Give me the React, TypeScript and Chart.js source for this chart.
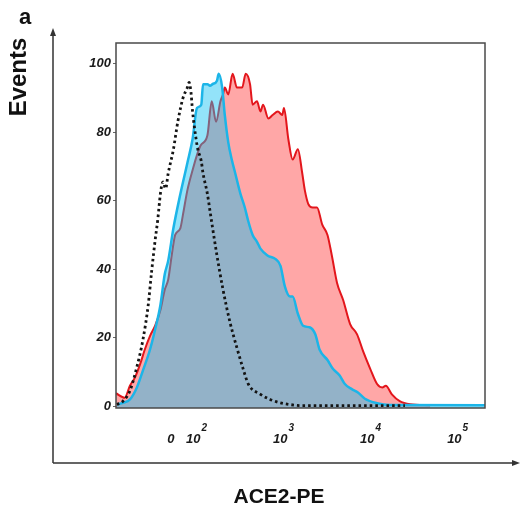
import React, { useEffect, useRef } from "react";
import { Chart, registerables } from "chart.js";

Chart.register(...registerables);

const FONT = '"Liberation Sans", Arial, Helvetica, sans-serif';

// x in log10 units (biexponential display), y in % of max events
const xMin = 1.08;
const xMax = 5.32;
const yMin = -0.5;
const yMax = 106;

const yTicks = [0, 20, 40, 60, 80, 100];
const xTickValues = [1.71, 2, 3, 4, 5];
const xTickBase = ["0", "10", "10", "10", "10"];
const xTickExp = ["", "2", "3", "4", "5"];

// ACE2 stained (red)
const redX = [1.08, 1.18, 1.24, 1.3, 1.36, 1.41, 1.47, 1.53, 1.59, 1.64, 1.68, 1.72, 1.76, 1.82, 1.85, 1.9, 1.95, 2.05, 2.13, 2.18, 2.23, 2.28, 2.31, 2.33, 2.37, 2.42, 2.47, 2.53, 2.57, 2.62, 2.65, 2.7, 2.74, 2.77, 2.83, 2.88, 2.94, 2.99, 3.01, 3.06, 3.11, 3.17, 3.22, 3.25, 3.29, 3.34, 3.39, 3.45, 3.51, 3.56, 3.62, 3.69, 3.77, 3.85, 3.92, 4.0, 4.08, 4.14, 4.18, 4.25, 4.34, 4.46, 4.69];
const redY = [3.8, 2.5, 6, 8.5, 12.5, 16.5, 20.5, 23.5, 28, 34, 37, 44, 50, 52, 56, 63, 68, 76, 79, 89, 83, 89, 91, 93, 91, 97, 93, 93, 97, 94, 88, 89, 86, 88, 84, 85, 86, 85, 87, 78, 72, 75, 68, 63, 59, 58, 58, 53, 50, 44, 36, 31, 24, 21, 16, 11, 6.5, 5.5, 6, 3.5, 1.5, 0.6, 0.3];

// second sample (cyan)
const blueX = [1.09, 1.16, 1.24, 1.32, 1.39, 1.47, 1.53, 1.59, 1.64, 1.68, 1.74, 1.82, 1.9, 1.96, 2.01, 2.06, 2.08, 2.13, 2.16, 2.19, 2.24, 2.26, 2.3, 2.33, 2.37, 2.41, 2.45, 2.51, 2.56, 2.6, 2.65, 2.7, 2.74, 2.82, 2.91, 2.97, 3.02, 3.08, 3.11, 3.17, 3.23, 3.31, 3.37, 3.42, 3.51, 3.57, 3.65, 3.71, 3.79, 3.86, 3.94, 4.08, 4.23, 5.32];
const blueY = [0.5, 1, 2, 5.5, 10.5, 16.5, 22.5, 29.5, 38.5, 42.5, 52, 62, 71, 78, 87, 88, 94, 94, 93.5, 94, 95, 97, 93, 85, 77, 72, 68, 62, 58, 54, 50, 48, 46, 44, 43, 41, 35, 32, 32, 27, 23.5, 23, 21, 16.5, 13.5, 11, 9, 6.5, 5, 4, 2.2, 0.9, 0.4, 0.3];

// isotype control (dotted)
const ctrlX = [1.09, 1.16, 1.24, 1.32, 1.39, 1.45, 1.49, 1.53, 1.56, 1.59, 1.61, 1.62, 1.65, 1.68, 1.74, 1.79, 1.85, 1.9, 1.92, 1.94, 1.96, 2.0, 2.02, 2.06, 2.08, 2.13, 2.16, 2.19, 2.24, 2.31, 2.39, 2.47, 2.54, 2.6, 2.74, 2.85, 2.97, 3.08, 3.2, 4.4];
const ctrlY = [0.5, 1.5, 4.5, 11.5, 19.5, 29.5, 39.5, 48.5, 54.5, 62, 65, 65.5, 63.5, 68, 75, 83, 90, 93, 94.5, 92, 86, 78, 75, 71.5, 68, 62, 57, 52, 44, 34, 24.5, 17, 11, 6.5, 3.5, 2, 1, 0.5, 0.2, 0.2];

const toPts = (xs: number[], ys: number[]) => xs.map((x, i) => ({ x, y: ys[i] }));

const decorPlugin = {
  id: "decor",
  afterDatasetsDraw(chart: any) {
    const { ctx, chartArea } = chart;
    const { left, top, right, bottom } = chartArea;
    ctx.save();
    ctx.strokeStyle = "#4a4a4a";
    ctx.lineWidth = 1.5;
    ctx.strokeRect(left, top, right - left, bottom - top);
    ctx.restore();
  },
  afterDraw(chart: any) {
    const { ctx } = chart;
    const xs = chart.scales.x;
    ctx.save();
    // x tick labels with exponents
    xTickValues.forEach((v, i) => {
      const px = xs.getPixelForValue(v);
      ctx.fillStyle = "#1a1a1a";
      ctx.font = `italic bold 13px ${FONT}`;
      const wb = ctx.measureText(xTickBase[i]).width;
      ctx.font = `italic bold 10px ${FONT}`;
      const we = xTickExp[i] ? ctx.measureText(xTickExp[i]).width : 0;
      const start = px - (wb + we) / 2;
      ctx.textAlign = "left";
      ctx.textBaseline = "alphabetic";
      ctx.font = `italic bold 13px ${FONT}`;
      ctx.fillText(xTickBase[i], start, 443);
      if (xTickExp[i]) {
        ctx.font = `italic bold 10px ${FONT}`;
        ctx.fillText(xTickExp[i], start + wb + 1, 431);
      }
    });

    // outer axes with arrows
    ctx.strokeStyle = "#333";
    ctx.fillStyle = "#333";
    ctx.lineWidth = 1.5;
    ctx.beginPath();
    ctx.moveTo(53, 463);
    ctx.lineTo(53, 34);
    ctx.moveTo(53, 463);
    ctx.lineTo(514, 463);
    ctx.stroke();
    ctx.beginPath();
    ctx.moveTo(53, 28);
    ctx.lineTo(50, 36);
    ctx.lineTo(56, 36);
    ctx.closePath();
    ctx.fill();
    ctx.beginPath();
    ctx.moveTo(520, 463);
    ctx.lineTo(512, 460);
    ctx.lineTo(512, 466);
    ctx.closePath();
    ctx.fill();

    // texts
    ctx.fillStyle = "#111";
    ctx.font = `bold 22px ${FONT}`;
    ctx.textAlign = "center";
    ctx.textBaseline = "middle";
    ctx.fillText("a", 25, 18);
    ctx.font = `bold 21px ${FONT}`;
    ctx.fillText("ACE2-PE", 279, 497);
    ctx.save();
    ctx.translate(19, 77);
    ctx.rotate(-Math.PI / 2);
    ctx.font = `bold 24px ${FONT}`;
    ctx.fillText("Events", 0, 0);
    ctx.restore();
    ctx.restore();
  },
};

export default function App() {
  const ref = useRef<HTMLCanvasElement | null>(null);
  useEffect(() => {
    if (!ref.current) return;
    const chart = new Chart(ref.current, {
      type: "line",
      data: {
        datasets: [
          {
            label: "Isotype",
            data: toPts(ctrlX, ctrlY),
            borderColor: "#141414",
            borderWidth: 2.8,
            borderDash: [2.6, 3],
            borderCapStyle: "butt",
            pointRadius: 0,
            fill: false,
            cubicInterpolationMode: "monotone",
          },
          {
            label: "Sample 2",
            data: toPts(blueX, blueY),
            borderColor: "#1cb5e8",
            backgroundColor: "rgba(15,193,242,0.45)",
            borderWidth: 2.5,
            pointRadius: 0,
            fill: "start",
            cubicInterpolationMode: "monotone",
          },
          {
            label: "ACE2",
            data: toPts(redX, redY),
            borderColor: "#e3161c",
            backgroundColor: "rgba(255,60,60,0.45)",
            borderWidth: 2,
            pointRadius: 0,
            fill: "start",
            cubicInterpolationMode: "monotone",
          },
        ],
      },
      options: {
        animation: false,
        responsive: false,
        events: [],
        layout: { padding: { left: 0, top: 43, right: 35, bottom: 0 } },
        plugins: { legend: { display: false }, tooltip: { enabled: false } },
        scales: {
          x: {
            type: "linear",
            min: xMin,
            max: xMax,
            ticks: { display: false },
            grid: { display: false },
            border: { display: false },
            afterFit: (s: any) => {
              s.height = 105;
            },
          },
          y: {
            type: "linear",
            min: yMin,
            max: yMax,
            afterBuildTicks: (s: any) => {
              s.ticks = yTicks.map((v) => ({ value: v }));
            },
            ticks: {
              color: "#1a1a1a",
              padding: 2,
              font: { family: FONT, size: 13, style: "italic", weight: "bold" },
            },
            grid: { drawOnChartArea: false, drawTicks: true, tickLength: 3, color: "#666" },
            border: { display: false },
            afterFit: (s: any) => {
              s.width = 116;
            },
          },
        },
      },
      plugins: [decorPlugin],
    } as any);
    return () => chart.destroy();
  }, []);
  return (
    <div style={{ position: "absolute", left: 0, top: 0, width: 520, height: 513, background: "#fff" }}>
      <canvas ref={ref} width={520} height={513} style={{ display: "block" }} />
    </div>
  );
}
